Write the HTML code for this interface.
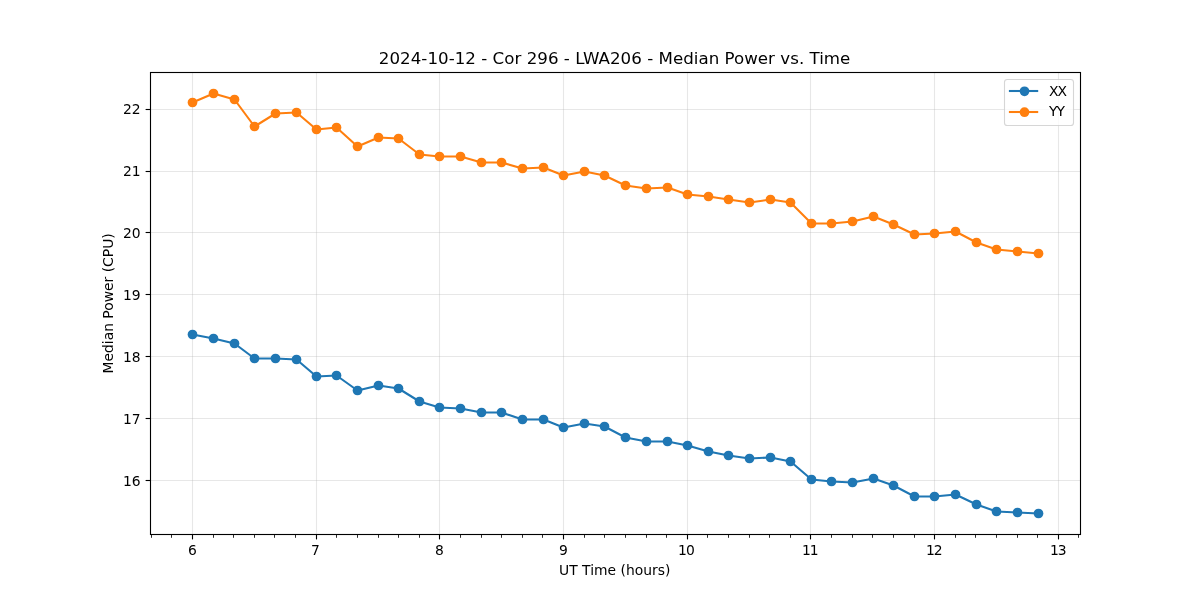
<!DOCTYPE html>
<html lang="en"><head><meta charset="utf-8"><title>Median Power vs. Time</title>
<style>html,body{margin:0;padding:0;background:#fff;overflow:hidden}svg{display:block}text{font-family:"DejaVu Sans","Liberation Sans",sans-serif;fill:#000}.t{font-size:13.889px}.h{font-size:16.667px}</style></head><body>
<svg width="1200" height="600" viewBox="0 0 1200 600">
<rect width="1200" height="600" fill="#fff"/>
<g stroke="#b0b0b0" stroke-opacity="0.3" stroke-width="1.11" fill="none">
<path d="M192.5 72.5V534.5"/>
<path d="M316.5 72.5V534.5"/>
<path d="M439.5 72.5V534.5"/>
<path d="M563.5 72.5V534.5"/>
<path d="M687.5 72.5V534.5"/>
<path d="M810.5 72.5V534.5"/>
<path d="M934.5 72.5V534.5"/>
<path d="M1058.5 72.5V534.5"/>
<path d="M150.5 109.5H1080.5"/>
<path d="M150.5 171.5H1080.5"/>
<path d="M150.5 232.5H1080.5"/>
<path d="M150.5 294.5H1080.5"/>
<path d="M150.5 356.5H1080.5"/>
<path d="M150.5 418.5H1080.5"/>
<path d="M150.5 480.5H1080.5"/>
</g>
<g stroke="#000" stroke-width="0.83" fill="none">
<path d="M151.5 534.5v3.3"/>
<path d="M171.5 534.5v3.3"/>
<path d="M213.5 534.5v3.3"/>
<path d="M233.5 534.5v3.3"/>
<path d="M254.5 534.5v3.3"/>
<path d="M274.5 534.5v3.3"/>
<path d="M295.5 534.5v3.3"/>
<path d="M336.5 534.5v3.3"/>
<path d="M357.5 534.5v3.3"/>
<path d="M378.5 534.5v3.3"/>
<path d="M398.5 534.5v3.3"/>
<path d="M419.5 534.5v3.3"/>
<path d="M460.5 534.5v3.3"/>
<path d="M481.5 534.5v3.3"/>
<path d="M501.5 534.5v3.3"/>
<path d="M522.5 534.5v3.3"/>
<path d="M542.5 534.5v3.3"/>
<path d="M584.5 534.5v3.3"/>
<path d="M604.5 534.5v3.3"/>
<path d="M625.5 534.5v3.3"/>
<path d="M646.5 534.5v3.3"/>
<path d="M666.5 534.5v3.3"/>
<path d="M707.5 534.5v3.3"/>
<path d="M728.5 534.5v3.3"/>
<path d="M749.5 534.5v3.3"/>
<path d="M769.5 534.5v3.3"/>
<path d="M790.5 534.5v3.3"/>
<path d="M831.5 534.5v3.3"/>
<path d="M852.5 534.5v3.3"/>
<path d="M872.5 534.5v3.3"/>
<path d="M893.5 534.5v3.3"/>
<path d="M914.5 534.5v3.3"/>
<path d="M955.5 534.5v3.3"/>
<path d="M975.5 534.5v3.3"/>
<path d="M996.5 534.5v3.3"/>
<path d="M1017.5 534.5v3.3"/>
<path d="M1037.5 534.5v3.3"/>
<path d="M1078.5 534.5v3.3"/>
</g>
<g stroke="#000" stroke-width="1.11" fill="none">
<path d="M192.5 534.5v4.9"/>
<path d="M316.5 534.5v4.9"/>
<path d="M439.5 534.5v4.9"/>
<path d="M563.5 534.5v4.9"/>
<path d="M687.5 534.5v4.9"/>
<path d="M810.5 534.5v4.9"/>
<path d="M934.5 534.5v4.9"/>
<path d="M1058.5 534.5v4.9"/>
<path d="M150.5 109.5h-4.9"/>
<path d="M150.5 171.5h-4.9"/>
<path d="M150.5 232.5h-4.9"/>
<path d="M150.5 294.5h-4.9"/>
<path d="M150.5 356.5h-4.9"/>
<path d="M150.5 418.5h-4.9"/>
<path d="M150.5 480.5h-4.9"/>
</g>
<polyline points="192.5,334.5 213.5,338.5 234.5,343.5 254.5,358.5 275.5,358.5 296.5,359.5 316.5,376.5 336.5,375.5 357.5,390.5 378.5,385.5 398.5,388.5 419.5,401.5 439.5,407.5 460.5,408.5 481.5,412.5 501.5,412.5 522.5,419.5 543.5,419.5 563.5,427.5 584.5,423.5 604.5,426.5 625.5,437.5 646.5,441.5 667.5,441.5 687.5,445.5 708.5,451.5 728.5,455.5 749.5,458.5 770.5,457.5 790.5,461.5 811.5,479.5 831.5,481.5 852.5,482.5 873.5,478.5 893.5,485.5 914.5,496.5 934.5,496.5 955.5,494.5 976.5,504.5 996.5,511.5 1017.5,512.5 1038.5,513.5" fill="none" stroke="#1f77b4" stroke-width="2.083" stroke-linejoin="round" stroke-linecap="butt"/>
<g fill="#1f77b4">
<circle cx="192.5" cy="334.5" r="4.86"/>
<circle cx="213.5" cy="338.5" r="4.86"/>
<circle cx="234.5" cy="343.5" r="4.86"/>
<circle cx="254.5" cy="358.5" r="4.86"/>
<circle cx="275.5" cy="358.5" r="4.86"/>
<circle cx="296.5" cy="359.5" r="4.86"/>
<circle cx="316.5" cy="376.5" r="4.86"/>
<circle cx="336.5" cy="375.5" r="4.86"/>
<circle cx="357.5" cy="390.5" r="4.86"/>
<circle cx="378.5" cy="385.5" r="4.86"/>
<circle cx="398.5" cy="388.5" r="4.86"/>
<circle cx="419.5" cy="401.5" r="4.86"/>
<circle cx="439.5" cy="407.5" r="4.86"/>
<circle cx="460.5" cy="408.5" r="4.86"/>
<circle cx="481.5" cy="412.5" r="4.86"/>
<circle cx="501.5" cy="412.5" r="4.86"/>
<circle cx="522.5" cy="419.5" r="4.86"/>
<circle cx="543.5" cy="419.5" r="4.86"/>
<circle cx="563.5" cy="427.5" r="4.86"/>
<circle cx="584.5" cy="423.5" r="4.86"/>
<circle cx="604.5" cy="426.5" r="4.86"/>
<circle cx="625.5" cy="437.5" r="4.86"/>
<circle cx="646.5" cy="441.5" r="4.86"/>
<circle cx="667.5" cy="441.5" r="4.86"/>
<circle cx="687.5" cy="445.5" r="4.86"/>
<circle cx="708.5" cy="451.5" r="4.86"/>
<circle cx="728.5" cy="455.5" r="4.86"/>
<circle cx="749.5" cy="458.5" r="4.86"/>
<circle cx="770.5" cy="457.5" r="4.86"/>
<circle cx="790.5" cy="461.5" r="4.86"/>
<circle cx="811.5" cy="479.5" r="4.86"/>
<circle cx="831.5" cy="481.5" r="4.86"/>
<circle cx="852.5" cy="482.5" r="4.86"/>
<circle cx="873.5" cy="478.5" r="4.86"/>
<circle cx="893.5" cy="485.5" r="4.86"/>
<circle cx="914.5" cy="496.5" r="4.86"/>
<circle cx="934.5" cy="496.5" r="4.86"/>
<circle cx="955.5" cy="494.5" r="4.86"/>
<circle cx="976.5" cy="504.5" r="4.86"/>
<circle cx="996.5" cy="511.5" r="4.86"/>
<circle cx="1017.5" cy="512.5" r="4.86"/>
<circle cx="1038.5" cy="513.5" r="4.86"/>
</g>
<polyline points="192.5,102.5 213.5,93.5 234.5,99.5 254.5,126.5 275.5,113.5 296.5,112.5 316.5,129.5 336.5,127.5 357.5,146.5 378.5,137.5 398.5,138.5 419.5,154.5 439.5,156.5 460.5,156.5 481.5,162.5 501.5,162.5 522.5,168.5 543.5,167.5 563.5,175.5 584.5,171.5 604.5,175.5 625.5,185.5 646.5,188.5 667.5,187.5 687.5,194.5 708.5,196.5 728.5,199.5 749.5,202.5 770.5,199.5 790.5,202.5 811.5,223.5 831.5,223.5 852.5,221.5 873.5,216.5 893.5,224.5 914.5,234.5 934.5,233.5 955.5,231.5 976.5,242.5 996.5,249.5 1017.5,251.5 1038.5,253.5" fill="none" stroke="#ff7f0e" stroke-width="2.083" stroke-linejoin="round" stroke-linecap="butt"/>
<g fill="#ff7f0e">
<circle cx="192.5" cy="102.5" r="4.86"/>
<circle cx="213.5" cy="93.5" r="4.86"/>
<circle cx="234.5" cy="99.5" r="4.86"/>
<circle cx="254.5" cy="126.5" r="4.86"/>
<circle cx="275.5" cy="113.5" r="4.86"/>
<circle cx="296.5" cy="112.5" r="4.86"/>
<circle cx="316.5" cy="129.5" r="4.86"/>
<circle cx="336.5" cy="127.5" r="4.86"/>
<circle cx="357.5" cy="146.5" r="4.86"/>
<circle cx="378.5" cy="137.5" r="4.86"/>
<circle cx="398.5" cy="138.5" r="4.86"/>
<circle cx="419.5" cy="154.5" r="4.86"/>
<circle cx="439.5" cy="156.5" r="4.86"/>
<circle cx="460.5" cy="156.5" r="4.86"/>
<circle cx="481.5" cy="162.5" r="4.86"/>
<circle cx="501.5" cy="162.5" r="4.86"/>
<circle cx="522.5" cy="168.5" r="4.86"/>
<circle cx="543.5" cy="167.5" r="4.86"/>
<circle cx="563.5" cy="175.5" r="4.86"/>
<circle cx="584.5" cy="171.5" r="4.86"/>
<circle cx="604.5" cy="175.5" r="4.86"/>
<circle cx="625.5" cy="185.5" r="4.86"/>
<circle cx="646.5" cy="188.5" r="4.86"/>
<circle cx="667.5" cy="187.5" r="4.86"/>
<circle cx="687.5" cy="194.5" r="4.86"/>
<circle cx="708.5" cy="196.5" r="4.86"/>
<circle cx="728.5" cy="199.5" r="4.86"/>
<circle cx="749.5" cy="202.5" r="4.86"/>
<circle cx="770.5" cy="199.5" r="4.86"/>
<circle cx="790.5" cy="202.5" r="4.86"/>
<circle cx="811.5" cy="223.5" r="4.86"/>
<circle cx="831.5" cy="223.5" r="4.86"/>
<circle cx="852.5" cy="221.5" r="4.86"/>
<circle cx="873.5" cy="216.5" r="4.86"/>
<circle cx="893.5" cy="224.5" r="4.86"/>
<circle cx="914.5" cy="234.5" r="4.86"/>
<circle cx="934.5" cy="233.5" r="4.86"/>
<circle cx="955.5" cy="231.5" r="4.86"/>
<circle cx="976.5" cy="242.5" r="4.86"/>
<circle cx="996.5" cy="249.5" r="4.86"/>
<circle cx="1017.5" cy="251.5" r="4.86"/>
<circle cx="1038.5" cy="253.5" r="4.86"/>
</g>
<rect x="150.5" y="72.5" width="930.0" height="462.0" fill="none" stroke="#000" stroke-width="1.11"/>
<g class="t" text-anchor="middle">
<text x="192.5" y="554.9">6</text>
<text x="315.5" y="554.9">7</text>
<text x="439.5" y="554.9">8</text>
<text x="563.5" y="554.9">9</text>
<text x="685.90" y="554.9" letter-spacing="-1.00">10</text>
<text x="809.80" y="554.9" letter-spacing="-1.00">11</text>
<text x="933.80" y="554.9" letter-spacing="-1.00">12</text>
<text x="1057.80" y="554.9" letter-spacing="-1.00">13</text>
</g>
<g class="t" text-anchor="end">
<text x="140.7" y="114.0">22</text>
<text x="140.7" y="176.0">21</text>
<text x="140.7" y="238.0">20</text>
<text x="140.7" y="300.0">19</text>
<text x="140.7" y="362.0">18</text>
<text x="140.7" y="424.0">17</text>
<text x="140.7" y="486.0">16</text>
</g>
<text class="t" text-anchor="middle" x="614.7" y="574.9">UT Time (hours)</text>
<text class="t" text-anchor="middle" transform="translate(112.6 303.4) rotate(-90)">Median Power (CPU)</text>
<text class="h" text-anchor="middle" x="614.6" y="63.9" textLength="471.5" lengthAdjust="spacing">2024-10-12 - Cor 296 - LWA206 - Median Power vs. Time</text>
<rect x="1004.5" y="79.5" width="69.0" height="46.0" rx="2.8" ry="2.8" fill="#fff" fill-opacity="0.8" stroke="#ccc" stroke-opacity="0.8" stroke-width="1.11"/>
<path d="M1008.9 91.0H1038.2" stroke="#1f77b4" stroke-width="2.083" fill="none"/>
<circle cx="1024.5" cy="91.3" r="4.86" fill="#1f77b4"/>
<text class="t" x="1049.05" y="95.9" letter-spacing="-1.1">XX</text>
<path d="M1008.9 112.0H1038.2" stroke="#ff7f0e" stroke-width="2.083" fill="none"/>
<circle cx="1024.5" cy="112.2" r="4.86" fill="#ff7f0e"/>
<text class="t" x="1049.05" y="116.3" letter-spacing="-1.1">YY</text>
</svg></body></html>
